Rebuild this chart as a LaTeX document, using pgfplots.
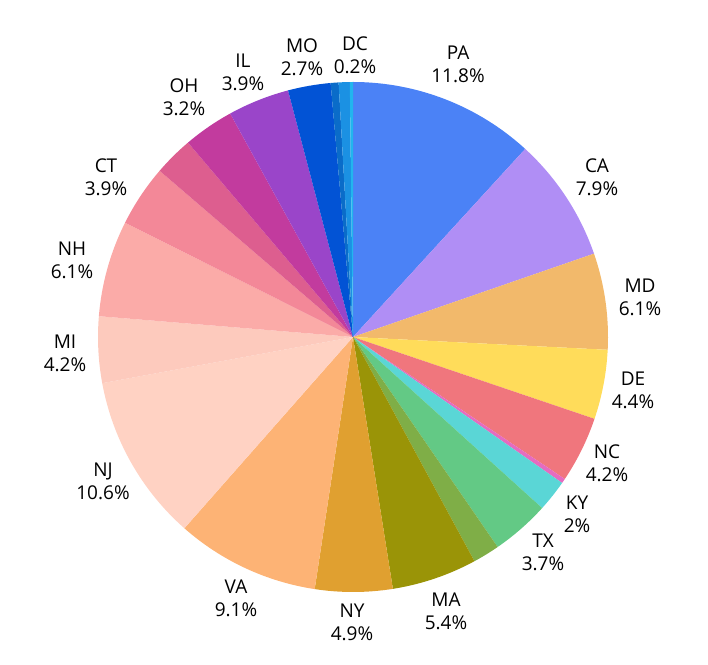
\documentclass[border=0pt]{standalone}
\usepackage{fontspec}
\setmainfont{Open Sans}
\usepackage{pgfplots}
\usepackage{pgfplotstable}
\pgfplotsset{compat=1.18}

% slices clockwise from 12 o'clock; lx, ly = label centre (pixels from top-left)
\pgfplotstableread{
name val pct col lx ly lab
PA 11.8 11.8 4B82F6 458 64 1
CA 7.9 7.9 B08EF5 597 177 1
MD 6.1 6.1 F2B96B 640 297 1
DE 4.4 4.4 FFDC5A 633 390 1
NC 4.2 4.2 F0767D 607 463 1
X1 0.3 0.3 E56BC0 0 0 0
KY 2.0 2 5AD6D6 577 514 1
TX 3.7 3.7 63C985 543 552 1
X2 1.7 1.7 7FAE47 0 0 0
MA 5.4 5.4 9A9407 446 611 1
NY 4.9 4.9 E0A030 352 622 1
VA 9.1 9.1 FDB375 236 598 1
NJ 10.6 10.6 FFD2C3 103 481 1
MI 4.2 4.2 FDCABD 65 353 1
NH 6.1 6.1 FBABA8 72 260 1
CT 3.9 3.9 F38898 106 177 1
X3 2.5 2.5 DD5E8F 0 0 0
OH 3.2 3.2 C23B9E 184 97 1
IL 3.9 3.9 9A45C9 243 72 1
MO 2.7 2.7 0253D5 302 57 1
X4 0.5 0.5 0A6CC9 0 0 0
X5 0.7 0.7 1B91E3 0 0 0
DC 0.2 0.2 22B5EE 355 55 1
}\pietable

\begin{document}
\begin{tikzpicture}
\path[use as bounding box] (0,0) rectangle (708pt,664pt);
\begin{axis}[
  at={(0,0)}, anchor=south west,
  scale only axis, width=708pt, height=664pt,
  xmin=0, xmax=708, ymin=0, ymax=664,
  hide axis, clip=false,
]
\pgfplotsextra{
  \pgfplotstablegetrowsof{\pietable}
  \pgfmathtruncatemacro\N{\pgfplotsretval-1}
  \gdef\cum{0}
  \foreach \i in {0,...,\N}{
    \pgfplotstablegetelem{\i}{val}\of\pietable \let\v\pgfplotsretval
    \pgfplotstablegetelem{\i}{col}\of\pietable \let\c\pgfplotsretval
    \definecolor{slicecol}{HTML}{\c}
    \pgfmathsetmacro\a{90-3.6*\cum}
    \pgfmathsetmacro\b{90-3.6*(\cum+\v)}
    \fill[slicecol] (axis cs:353,327) -- ++(\a:255pt) arc[start angle=\a, end angle=\b, radius=255pt] -- cycle;
    \pgfmathsetmacro\newcum{\cum+\v}
    \xdef\cum{\newcum}
  }
  \foreach \i in {0,...,\N}{
    \pgfplotstablegetelem{\i}{lab}\of\pietable \let\lb\pgfplotsretval
    \ifnum\lb=1
      \pgfplotstablegetelem{\i}{name}\of\pietable \let\nm\pgfplotsretval
      \pgfplotstablegetelem{\i}{pct}\of\pietable \let\pc\pgfplotsretval
      \pgfplotstablegetelem{\i}{lx}\of\pietable \let\lx\pgfplotsretval
      \pgfplotstablegetelem{\i}{ly}\of\pietable \let\ly\pgfplotsretval
      \pgfmathsetmacro\lyy{664-\ly}
      \node[align=center, inner sep=0pt, text=black,
            font=\fontsize{19}{23}\selectfont]
        at (axis cs:\lx,\lyy) {\nm\\\pc\%};
    \fi
  }
}
\end{axis}
\end{tikzpicture}
\end{document}
